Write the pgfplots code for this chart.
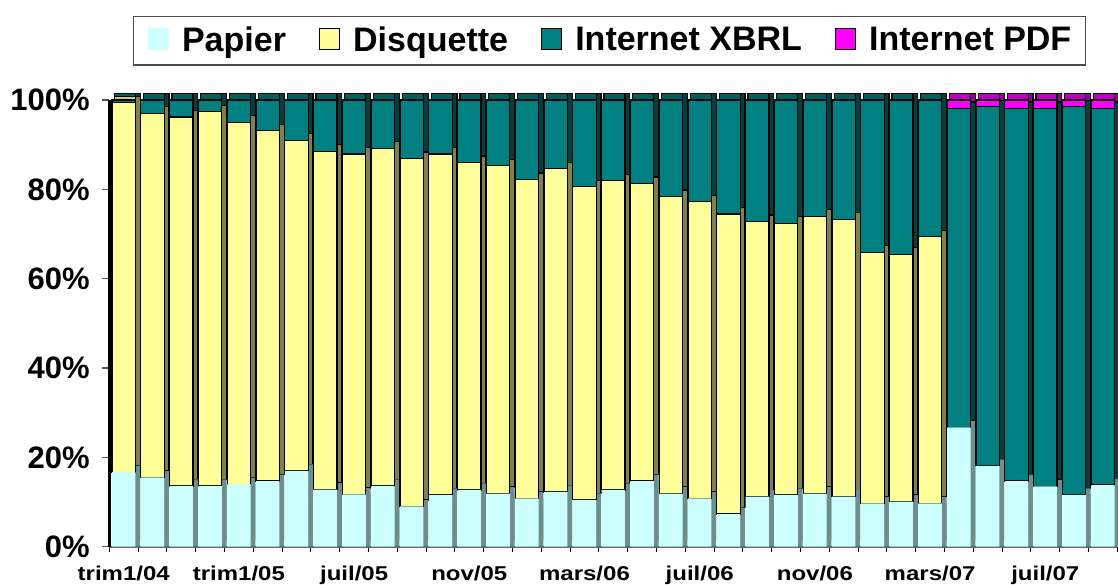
\documentclass[border=0pt]{standalone}
\usepackage{pgfplots}
\pgfplotsset{compat=1.18}
\usepackage{pgfplotstable}
\usepackage{fontspec}
\setmainfont{Liberation Sans}
\definecolor{papF}{HTML}{CCFFFF}
\definecolor{papS}{HTML}{6B8E8E}
\definecolor{disF}{HTML}{FFFF99}
\definecolor{disS}{HTML}{808048}
\definecolor{disT}{HTML}{CCCC77}
\definecolor{xbF}{HTML}{008080}
\definecolor{xbS}{HTML}{004040}
\definecolor{xbT}{HTML}{006060}
\definecolor{pdF}{HTML}{FF00FF}
\definecolor{pdS}{HTML}{990099}
\definecolor{pdT}{HTML}{C000C0}

% shares (%) per period: Papier, Disquette, Internet XBRL, Internet PDF
\pgfplotstableread{
x pap dis xbrl pdf
0 16.7 82.7 0.6 0
1 15.5 81.5 3.0 0
2 13.6 82.6 3.8 0
3 13.6 83.8 2.6 0
4 14.0 81.0 5.0 0
5 14.7 78.4 6.9 0
6 17.0 74.0 9.0 0
7 12.8 75.7 11.5 0
8 11.7 76.2 12.1 0
9 13.6 75.6 10.8 0
10 9.0 77.9 13.1 0
11 11.6 76.3 12.1 0
12 12.7 73.3 14.0 0
13 11.9 73.4 14.7 0
14 10.8 71.4 17.8 0
15 12.3 72.3 15.4 0
16 10.5 70.1 19.4 0
17 12.7 69.2 18.1 0
18 14.7 66.6 18.7 0
19 11.9 66.5 21.6 0
20 10.8 66.4 22.8 0
21 7.3 67.2 25.5 0
22 11.2 61.6 27.2 0
23 11.6 60.8 27.6 0
24 11.9 62.1 26.0 0
25 11.2 62.1 26.7 0
26 9.7 56.2 34.1 0
27 10.1 55.4 34.5 0
28 9.7 59.7 30.6 0
29 26.7 0 71.4 1.9
30 18.1 0 80.4 1.5
31 14.7 0 83.4 1.9
32 13.5 0 84.6 1.9
33 11.6 0 86.9 1.5
34 13.8 0 84.3 1.9
}\data

\newcommand\xl[1]{\scalebox{1.2}[1]{#1}}

\pgfplotsset{
  geom/.style={scale only axis, width=504pt, height=223.35pt,
    xmin=-0.5, xmax=34.5, ymin=0, ymax=100, clip=false,
    anchor=south west},
  base/.style={geom, ybar stacked},
  Sb/.style={bar width=11.65pt, bar shift=2.4pt},
  Tb/.style={bar width=10.45pt, bar shift=0.6pt},
  Fb/.style={bar width=11.65pt, bar shift=0pt},
  ol/.style={draw=black, line width=0.6pt},
}

\begin{document}
\begin{tikzpicture}
% side faces down to floor for Papier
\begin{axis}[base, hide axis, at={(54.65pt,18.65pt)}]
\addplot[Sb, fill=papS, draw=none] table[x=x,y=pap]{\data};
\end{axis}
% side faces (depth)
\begin{axis}[base, hide axis, at={(54.65pt,21.9pt)}]
\addplot[Sb, fill=papS, draw=none] table[x=x,y=pap]{\data};
\addplot[Sb, fill=disS, ol] table[x=x,y=dis]{\data};
\addplot[Sb, fill=xbS, ol] table[x=x,y=xbrl]{\data};
\addplot[Sb, fill=pdS, ol] table[x=x,y=pdf]{\data};
\end{axis}
% top faces
\begin{axis}[base, hide axis, at={(54.65pt,21.9pt)}]
\addplot[Tb, fill=papS, draw=none] table[x=x,y=pap]{\data};
\addplot[Tb, fill=disT, ol] table[x=x,y=dis]{\data};
\addplot[Tb, fill=xbT, ol] table[x=x,y=xbrl]{\data};
\addplot[Tb, fill=pdT, ol] table[x=x,y=pdf]{\data};
\end{axis}
% front faces
\begin{axis}[base, at={(54.65pt,18.65pt)},
  axis lines*=left, axis line style={-},
  x axis line style={draw=gray!80!black, line width=0.8pt},
  y axis line style={draw=black, line width=1.6pt},
  tick align=outside,
  ytick={0,20,...,100},
  yticklabels={0\%,20\%,40\%,60\%,80\%,100\%},
  ytick style={draw=gray!70!black, line width=0.6pt, /pgfplots/major tick length=3.5pt},
  yticklabel style={font=\fontsize{15.5}{18}\selectfont\bfseries, anchor=east, inner sep=0pt, xshift=-5.3pt},
  x tick label as interval,
  xtick={-0.5,0.5,...,34.5},
  xticklabels={\xl{trim1/04},,,,\xl{trim1/05},,,,\xl{juil/05},,,,\xl{nov/05},,,,\xl{mars/06},,,,\xl{juil/06},,,,\xl{nov/06},,,,\xl{mars/07},,,,\xl{juil/07},,},
  xtick style={draw=black, line width=0.5pt, /pgfplots/major tick length=2.5pt},
  xticklabel style={font=\fontsize{10}{12}\selectfont\bfseries, anchor=base, inner sep=0pt, yshift=-12.6pt},
]
\addplot[Fb, fill=papF, draw=none] table[x=x,y=pap]{\data};
\addplot[Fb, fill=disF, ol] table[x=x,y=dis]{\data};
\addplot[Fb, fill=xbF, ol] table[x=x,y=xbrl]{\data};
\addplot[Fb, fill=pdF, ol] table[x=x,y=pdf]{\data};
\end{axis}
% legend
\begin{axis}[geom, hide axis, at={(54.65pt,18.65pt)},
  legend columns=4,
  legend style={at={(0.4962,1.133)}, anchor=center, draw=gray!60!black, line width=0.7pt,
    fill=white, inner xsep=7pt, inner ysep=5.2pt,
    font=\fontsize{17}{20}\selectfont\bfseries,
    nodes={inner sep=0pt},
    /tikz/every odd column/.append style={column sep=6.5pt},
    /tikz/every even column/.append style={column sep=16.5pt}},
]
\addlegendimage{legend image code/.code={\fill[papF] (0pt,-4.5pt) rectangle (10pt,6pt);}}
\addlegendimage{legend image code/.code={\draw[fill=disF, draw=black, line width=0.6pt] (0pt,-4.5pt) rectangle (10pt,6pt);}}
\addlegendimage{legend image code/.code={\draw[fill=xbF, draw=black, line width=0.6pt] (0pt,-4.5pt) rectangle (10pt,6pt);}}
\addlegendimage{legend image code/.code={\draw[fill=pdF, draw=black, line width=0.6pt] (0pt,-4.5pt) rectangle (10pt,6pt);}}
\legend{Papier,Disquette,Internet XBRL,Internet PDF}
\end{axis}
\pgfresetboundingbox
\path (0,0) rectangle (559pt,292pt);
\end{tikzpicture}
\end{document}
